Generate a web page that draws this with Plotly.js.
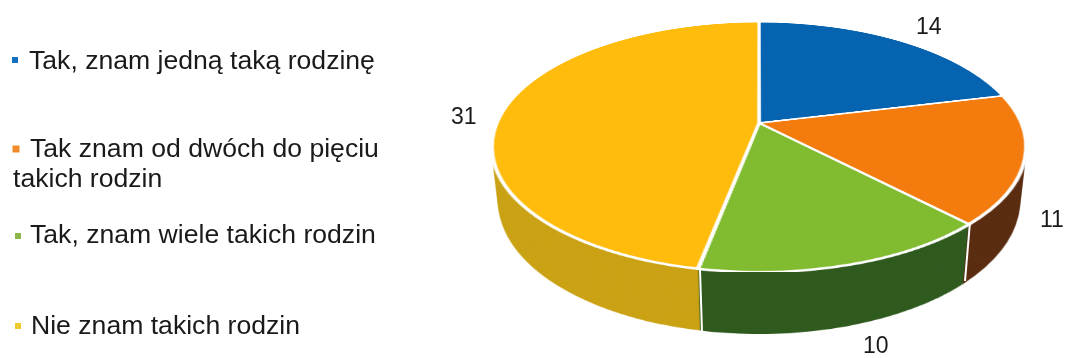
<!DOCTYPE html>
<html>
<head>
<meta charset="utf-8">
<script src="https://cdn.plot.ly/plotly-3.0.1.min.js"></script>
<style>
  html, body { margin: 0; padding: 0; background: #fff; overflow: hidden; }
  #stage { position: relative; width: 1065px; height: 358px; overflow: hidden; }
  /* Camera looking down on the disc; the vanishing point sits over the pie centre. */
  #camera {
    position: absolute; left: 498px; top: -138px; width: 522px; height: 522px;
    perspective: 1206px; perspective-origin: 261px 261px;
    transform-origin: 261px 261px;
    transform: scaleX(1.004);
  }
  #disc {
    position: absolute; left: 0; top: 0; width: 522px; height: 522px;
    transform-origin: 261px 261px;
    transform: rotateX(62.5deg);
    transform-style: preserve-3d;
  }
  .layer { position: absolute; left: 0; top: 0; width: 522px; height: 522px; }
  #labels { position: absolute; left: 0; top: 0; width: 1065px; height: 358px; }
</style>
</head>
<body>
<div id="stage">
  <div id="camera"><div id="disc"></div></div>
  <div id="labels"></div>
</div>
<script>
const categories = [
  "Tak, znam jedną taką rodzinę",
  "Tak znam od dwóch do pięciu takich rodzin",
  "Tak, znam wiele takich rodzin",
  "Nie znam takich rodzin"
];
const values = [14, 11, 10, 31];
const faceColors = ["#0563b0", "#f47b0e", "#80bb30", "#ffbc0c"];
const wallColors = ["#033b6a", "#5a2c10", "#2f5a1e", "#caa214"];
const legendMarkerColors = ["#1170c0", "#f08a2a", "#8cb84a", "#f0c830"];

const discSize = 522;
const wallDepth = 62;
const wallStep = 1.25;

// Each layer is one pie placed at its own depth along the disc's axis.
function addLayer(depth, colors, line) {
  const el = document.createElement("div");
  el.className = "layer";
  el.style.transform = "translateZ(" + (-depth) + "px)";
  document.getElementById("disc").appendChild(el);
  Plotly.newPlot(el, [{
    type: "pie",
    labels: categories,
    values: values,
    sort: false,
    direction: "clockwise",
    rotation: 0,
    textinfo: "none",
    hoverinfo: "skip",
    showlegend: false,
    marker: { colors: colors, line: line },
    domain: { x: [0, 1], y: [0, 1] }
  }], {
    width: discSize, height: discSize,
    margin: { l: 0, r: 0, t: 0, b: 0 },
    paper_bgcolor: "rgba(0,0,0,0)",
    showlegend: false
  }, { staticPlot: true, displayModeBar: false });
}

for (let d = wallDepth; d > 0; d -= wallStep) {
  addLayer(d, wallColors, { width: 0 });
}
addLayer(0, faceColors, { color: "#ffffff", width: 3.5 });

// Text labels, legend keys and wall seams sit on an untilted overlay.
const W = 1065, H = 358;
const legendFont = { family: "Liberation Sans, Arial, sans-serif", size: 26.6, color: "#1a1a1a" };
const valueFont = { family: "Liberation Sans, Arial, sans-serif", size: 23, color: "#1a1a1a" };

function note(text, x, y, anchor, font) {
  return {
    text: text, x: x / W, y: 1 - y / H, xref: "paper", yref: "paper",
    xanchor: anchor, yanchor: "middle", showarrow: false, font: font,
    borderpad: 0, borderwidth: 0
  };
}
function key(x, y, color, size) {
  return {
    type: "rect", xref: "paper", yref: "paper", line: { width: 0 }, fillcolor: color,
    x0: (x - size / 2) / W, x1: (x + size / 2) / W,
    y0: 1 - (y + size / 2) / H, y1: 1 - (y - size / 2) / H
  };
}
function seam(x0, y0, x1, y1) {
  return {
    type: "line", xref: "paper", yref: "paper", line: { color: "#ffffff", width: 2 },
    x0: x0 / W, x1: x1 / W, y0: 1 - y0 / H, y1: 1 - y1 / H
  };
}

Plotly.newPlot("labels", [], {
  width: W, height: H,
  margin: { l: 0, r: 0, t: 0, b: 0 },
  paper_bgcolor: "rgba(0,0,0,0)",
  plot_bgcolor: "rgba(0,0,0,0)",
  xaxis: { visible: false }, yaxis: { visible: false },
  annotations: [
    note(categories[0], 29, 60, "left", legendFont),
    note("Tak znam od dwóch do pięciu", 30, 148, "left", legendFont),
    note("takich rodzin", 13, 178, "left", legendFont),
    note(categories[2], 30, 234, "left", legendFont),
    note(categories[3], 31, 325, "left", legendFont),
    note(String(values[0]), 929, 26, "center", valueFont),
    note(String(values[1]), 1052, 219, "center", valueFont),
    note(String(values[2]), 876, 345, "center", valueFont),
    note(String(values[3]), 464, 116, "center", valueFont)
  ],
  shapes: [
    key(15, 60, legendMarkerColors[0], 6),
    key(16, 149, legendMarkerColors[1], 7),
    key(18, 236, legendMarkerColors[2], 6),
    key(18, 326, legendMarkerColors[3], 6),
    seam(970, 222, 965, 281),
    seam(700, 270, 702, 332)
  ]
}, { staticPlot: true, displayModeBar: false });
</script>
</body>
</html>
